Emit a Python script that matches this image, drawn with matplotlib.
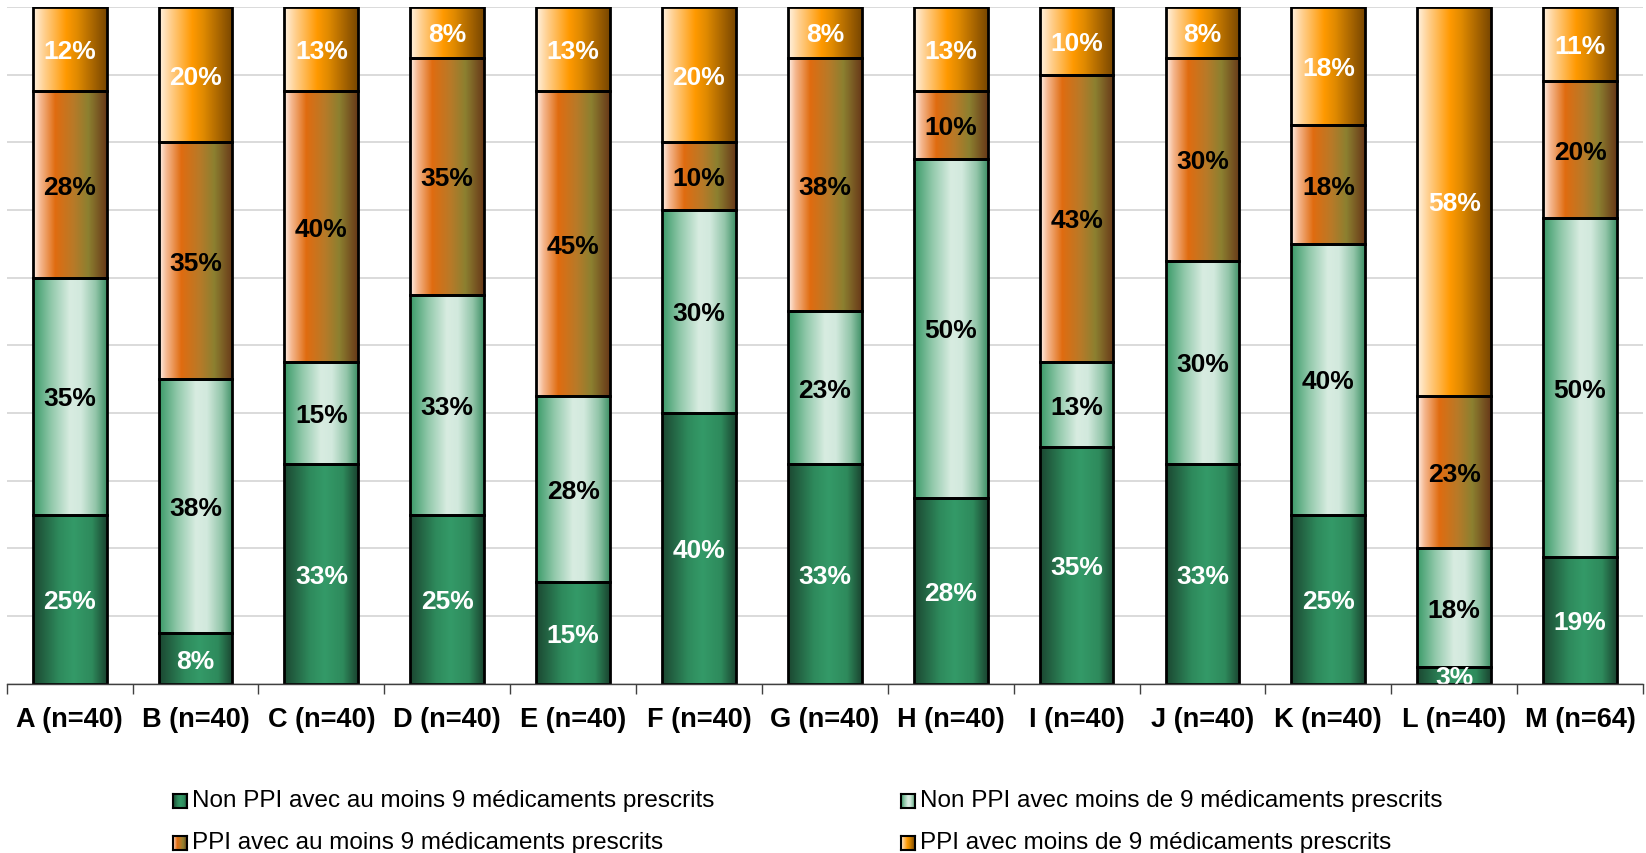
import numpy as np
import matplotlib
matplotlib.use("Agg")
import matplotlib.pyplot as plt
from matplotlib.colors import LinearSegmentedColormap

plt.rcParams['font.family'] = ['Liberation Sans', 'DejaVu Sans']

categories = ['A (n=40)', 'B (n=40)', 'C (n=40)', 'D (n=40)', 'E (n=40)', 'F (n=40)', 'G (n=40)',
              'H (n=40)', 'I (n=40)', 'J (n=40)', 'K (n=40)', 'L (n=40)', 'M (n=64)']
series_names = ['Non PPI avec au moins 9 médicaments prescrits',
                'Non PPI avec moins de 9 médicaments prescrits',
                'PPI avec au moins 9 médicaments prescrits',
                'PPI avec moins de 9 médicaments prescrits']

# segment heights (%)
non_ppi_9plus = [25, 7.5, 32.5, 25, 15, 40, 32.5, 27.5, 35, 32.5, 25, 2.5, 18.75]
non_ppi_less9 = [35, 37.5, 15, 32.5, 27.5, 30, 22.5, 50, 12.5, 30, 40, 17.5, 50]
ppi_9plus = [27.5, 35, 40, 35, 45, 10, 37.5, 10, 42.5, 30, 17.5, 22.5, 20.3]
ppi_less9 = [12.5, 20, 12.5, 7.5, 12.5, 20, 7.5, 12.5, 10, 7.5, 17.5, 57.5, 10.95]

# labels as printed on the bars
lab_non_ppi_9plus = ['25%', '8%', '33%', '25%', '15%', '40%', '33%', '28%', '35%', '33%', '25%', '3%', '19%']
lab_non_ppi_less9 = ['35%', '38%', '15%', '33%', '28%', '30%', '23%', '50%', '13%', '30%', '40%', '18%', '50%']
lab_ppi_9plus = ['28%', '35%', '40%', '35%', '45%', '10%', '38%', '10%', '43%', '30%', '18%', '23%', '20%']
lab_ppi_less9 = ['12%', '20%', '13%', '8%', '13%', '20%', '8%', '13%', '10%', '8%', '18%', '58%', '11%']

gradients = [
    [(0, '#1b4731'), (0.35, '#2e8a5c'), (0.55, '#349a68'), (0.8, '#2e8a5c'), (1, '#1a4430')],
    [(0, '#3a9a68'), (0.25, '#92c9ab'), (0.5, '#d8ece1'), (0.65, '#d2e9dd'), (0.85, '#92c5a9'), (1, '#3f9066')],
    [(0, '#fff2ea'), (0.1, '#f5b890'), (0.3, '#e06c10'), (0.55, '#b87a28'), (0.75, '#8c8030'), (1, '#683818')],
    [(0, '#fff3e3'), (0.15, '#ffd090'), (0.45, '#ff9900'), (0.6, '#e08a00'), (1, '#784600')],
]
text_colors = ['white', 'black', 'black', 'white']
cmaps = [LinearSegmentedColormap.from_list('g%d' % i, g) for i, g in enumerate(gradients)]
grad = np.linspace(0, 1, 256).reshape(1, -1)

fig = plt.figure(figsize=(16.46, 8.535), dpi=100)
ax = fig.add_axes([6.7 / 1646, 1 - 684 / 853, (1643 - 6.7) / 1646, (684 - 7.3) / 853])

x = np.arange(len(categories))
values = [non_ppi_9plus, non_ppi_less9, ppi_9plus, ppi_less9]
labels = [lab_non_ppi_9plus, lab_non_ppi_less9, lab_ppi_9plus, lab_ppi_less9]
bottom = np.zeros(len(categories))
for k in range(4):
    bars = ax.bar(x, values[k], width=0.586, bottom=bottom, facecolor='none',
                  edgecolor='black', linewidth=2, zorder=3)
    for i, b in enumerate(bars):
        x0, y0 = b.get_x(), b.get_y()
        im = ax.imshow(grad, cmap=cmaps[k], aspect='auto', zorder=2,
                       extent=[x0, x0 + b.get_width(), y0, y0 + b.get_height()])
        im.set_clip_path(b)
        ax.text(x0 + b.get_width() / 2, y0 + b.get_height() / 2, labels[k][i],
                ha='center', va='center_baseline', fontsize=19, fontweight='bold',
                color=text_colors[k], zorder=4, clip_on=True)
    bottom += np.array(values[k])

ax.set_xlim(-0.5, len(categories) - 0.5)
ax.set_ylim(0, 100)
ax.set_yticks(np.arange(0, 101, 10))
ax.set_yticklabels([])
ax.tick_params(axis='y', length=0)
ax.yaxis.grid(True, color='#d4d4d4', linewidth=1.2)
ax.set_axisbelow(True)
for s in ['left', 'right', 'top']:
    ax.spines[s].set_visible(False)
ax.spines['bottom'].set_color('#404040')
ax.spines['bottom'].set_linewidth(1)
ax.spines['bottom'].set_zorder(5)

ax.set_xticks(np.arange(-0.5, len(categories), 1))
ax.set_xticklabels([])
ax.tick_params(axis='x', which='major', length=7, width=1, color='#404040')
ax.set_xticks(x, minor=True)
ax.set_xticklabels(categories, minor=True, fontsize=19.5, fontweight='bold')
ax.tick_params(axis='x', which='minor', length=0, pad=16)

# legend drawn by hand: gradient squares + text
leg_pos = [(173, 801), (901, 801), (173, 843), (901, 843)]
for k, (px, py) in enumerate(leg_pos):
    lax = fig.add_axes([px / 1646, 1 - (py + 7) / 853, 14 / 1646, 14 / 853])
    lax.imshow(grad, cmap=cmaps[k], aspect='auto')
    lax.set_xticks([])
    lax.set_yticks([])
    for s in lax.spines.values():
        s.set_linewidth(1.5)
    fig.text((px + 19) / 1646, 1 - py / 853, series_names[k], fontsize=17.5,
             ha='left', va='center')

fig.savefig('out.png', dpi=100)
